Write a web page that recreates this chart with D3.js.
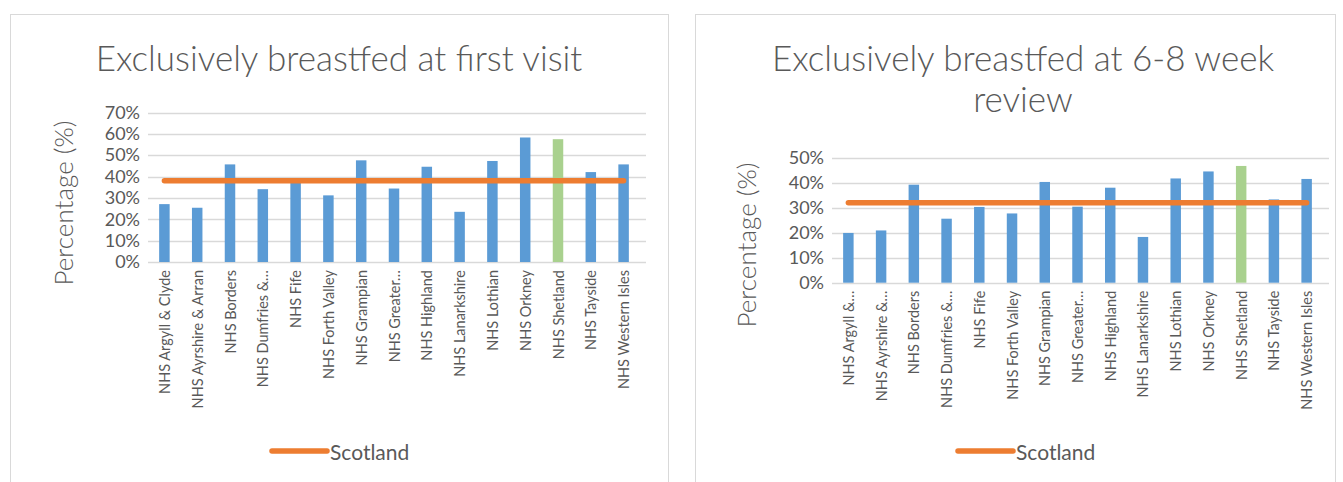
<!DOCTYPE html>
<html><head><meta charset="utf-8">
<script src="https://cdn.jsdelivr.net/npm/d3@7"></script>
<style>
html,body{margin:0;padding:0;background:#fff;}
svg text{font-family:Lato,"Open Sans",sans-serif;fill:#595959;}
</style></head>
<body>
<svg id="c" width="1343" height="482"></svg>
<script>
const categories = ["NHS Argyll & Clyde","NHS Ayrshire & Arran","NHS Borders","NHS Dumfries & Galloway","NHS Fife","NHS Forth Valley","NHS Grampian","NHS Greater Glasgow","NHS Highland","NHS Lanarkshire","NHS Lothian","NHS Orkney","NHS Shetland","NHS Tayside","NHS Western Isles"];
const labelsFirst = ["NHS Argyll & Clyde","NHS Ayrshire & Arran","NHS Borders","NHS Dumfries &…","NHS Fife","NHS Forth Valley","NHS Grampian","NHS Greater…","NHS Highland","NHS Lanarkshire","NHS Lothian","NHS Orkney","NHS Shetland","NHS Tayside","NHS Western Isles"];
const labelsReview = ["NHS Argyll &…","NHS Ayrshire &…","NHS Borders","NHS Dumfries &…","NHS Fife","NHS Forth Valley","NHS Grampian","NHS Greater…","NHS Highland","NHS Lanarkshire","NHS Lothian","NHS Orkney","NHS Shetland","NHS Tayside","NHS Western Isles"];
const firstVisit = [0.271,0.254,0.457,0.341,0.372,0.312,0.476,0.344,0.446,0.235,0.473,0.583,0.575,0.421,0.457];
const review68 = [0.199,0.209,0.392,0.256,0.303,0.277,0.403,0.304,0.380,0.183,0.417,0.445,0.467,0.333,0.415];
const scotlandFirst = 0.380;
const scotlandReview = 0.320;
const ticksFirst = [0,0.1,0.2,0.3,0.4,0.5,0.6,0.7];
const ticksReview = [0,0.1,0.2,0.3,0.4,0.5];
const highlight = "NHS Shetland";

const svg = d3.select("#c");
const fmt = d3.format(".0%");

function drawChart(cfg){
  const g = svg.append("g");
  g.append("rect").attr("x",cfg.box[0]+0.5).attr("y",cfg.box[1]+0.5)
    .attr("width",cfg.box[2]).attr("height",cfg.box[3])
    .attr("fill","#fff").attr("stroke","#d9d9d9").attr("stroke-width",1);
  cfg.title.forEach((t,i)=>{
    g.append("text").attr("x",cfg.titleX).attr("y",cfg.titleY+i*41)
      .attr("text-anchor","middle").attr("font-size",35).attr("font-weight",300).text(t);
  });
  const x = d3.scaleBand().domain(categories).range(cfg.xr).padding(0);
  const y = d3.scaleLinear().domain([0,d3.max(cfg.ticks)]).range(cfg.yr);
  g.append("g").selectAll("line").data(cfg.ticks).join("line")
    .attr("x1",cfg.xr[0]).attr("x2",cfg.xr[1]+6)
    .attr("y1",d=>Math.round(y(d))+0.5).attr("y2",d=>Math.round(y(d))+0.5)
    .attr("stroke","#d9d9d9").attr("stroke-width",1.3);
  const ya = d3.axisLeft(y).tickValues(cfg.ticks).tickFormat(fmt).tickSize(0).tickPadding(8);
  const yg = g.append("g").attr("transform",`translate(${cfg.xr[0]},0)`).call(ya);
  yg.select(".domain").remove();
  yg.selectAll("text").attr("font-size",18).attr("fill","#595959").style("font-family","Lato");
  g.append("text").attr("transform",`translate(${cfg.ytX},${cfg.ytY}) rotate(-90)`)
    .attr("text-anchor","middle").attr("dominant-baseline","central").attr("font-size",26).attr("font-weight",300).text("Percentage (%)");
  const bw = x.bandwidth()*0.32;
  g.append("g").selectAll("rect").data(categories).join("rect")
    .attr("x",d=>x(d)+x.bandwidth()/2-bw/2).attr("width",bw)
    .attr("y",(d,i)=>y(cfg.values[i])).attr("height",(d,i)=>y(0)-y(cfg.values[i]))
    .attr("fill",d=>d===highlight?"#a9d18e":"#5b9bd5");
  const xa = d3.axisBottom(x).tickSize(0).tickPadding(0).tickFormat((d,i)=>cfg.labels[i]);
  const xg = g.append("g").attr("transform",`translate(0,${cfg.yr[0]})`).call(xa);
  xg.select(".domain").remove();
  xg.selectAll("text").attr("font-size",14.5).attr("fill","#595959").style("font-family","Lato")
    .attr("text-anchor","end").attr("dy",null).attr("y",0)
    .attr("transform","translate(0,8) rotate(-90)").attr("dominant-baseline","central");
  const line = d3.line().x(d=>x(d)+x.bandwidth()/2).y(()=>y(cfg.scot));
  g.append("path").datum([categories[0],categories[categories.length-1]]).attr("d",line)
    .attr("stroke","#ed7d31").attr("stroke-width",5.5).attr("stroke-linecap","round").attr("fill","none");
  g.append("line").attr("x1",cfg.legX).attr("x2",cfg.legX+55).attr("y1",cfg.legY).attr("y2",cfg.legY)
    .attr("stroke","#ed7d31").attr("stroke-width",5.5).attr("stroke-linecap","round");
  g.append("text").attr("x",cfg.legX+58).attr("y",cfg.legY).attr("dominant-baseline","central")
    .attr("font-size",21).text("Scotland");
}

drawChart({box:[10,14,658,480],title:["Exclusively breastfed at first visit"],titleX:339,titleY:71,
  xr:[148,640],yr:[262,112.5],ticks:ticksFirst,values:firstVisit,labels:labelsFirst,scot:scotlandFirst,ytX:63,ytY:203,legX:272,legY:451});
drawChart({box:[695,14,640,480],title:["Exclusively breastfed at 6-8 week","review"],titleX:1023,titleY:71,
  xr:[832,1323],yr:[282.7,157.7],ticks:ticksReview,values:review68,labels:labelsReview,scot:scotlandReview,ytX:746,ytY:245,legX:958,legY:451});
</script>
</body></html>
